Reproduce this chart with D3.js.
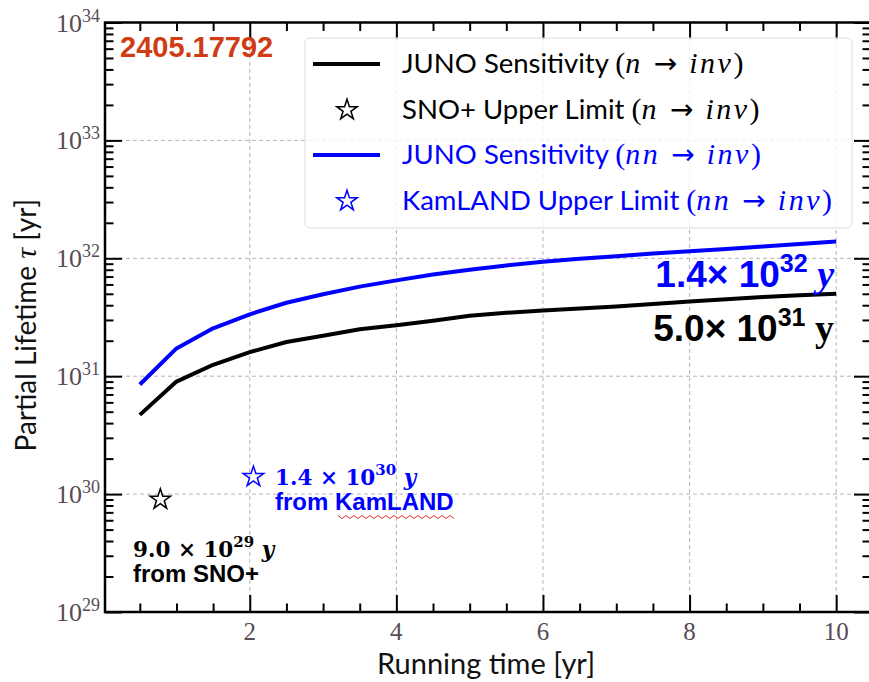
<!DOCTYPE html>
<html>
<head>
<meta charset="utf-8">
<script src="https://cdn.jsdelivr.net/npm/d3@7"></script>
<style>
  body { margin: 0; background: #fff; }
</style>
</head>
<body>
<div id="chart"></div>
<script>
const width = 869;
const height = 682;

// running time [yr]
const years = [0.5, 1, 1.5, 2, 2.5, 3, 3.5, 4, 4.5, 5, 5.5, 6, 6.5, 7, 7.5, 8, 8.5, 9, 9.5, 10];
// JUNO sensitivity n -> inv
const junoN = [4.7e30, 9.0e30, 1.25e31, 1.6e31, 1.95e31, 2.2e31, 2.5e31, 2.7e31, 2.95e31, 3.25e31,
               3.45e31, 3.6e31, 3.75e31, 3.9e31, 4.1e31, 4.3e31, 4.5e31, 4.7e31, 4.85e31, 5.0e31];
// JUNO sensitivity nn -> inv
const junoNN = [8.5e30, 1.72e31, 2.55e31, 3.35e31, 4.2e31, 4.95e31, 5.75e31, 6.5e31, 7.3e31, 8.0e31,
                8.7e31, 9.35e31, 9.9e31, 1.04e32, 1.1e32, 1.15e32, 1.2e32, 1.26e32, 1.32e32, 1.39e32];
// upper limits [year, lifetime]
const snoLimit = [0.78, 9.0e29];
const kamlandLimit = [2.05, 1.4e30];

const xMajor = [2, 4, 6, 8, 10];
const xMinor = [0.5, 1, 1.5, 2.5, 3, 3.5, 4.5, 5, 5.5, 6.5, 7, 7.5, 8.5, 9, 9.5, 10.5];
const yExponents = [29, 30, 31, 32, 33, 34];

const serif = "'Liberation Serif', 'DejaVu Serif', serif";
const sans = "Lato, 'Liberation Sans', sans-serif";
const boldSans = "'Liberation Sans', Arial, sans-serif";
const tickColor = "#574b57";

const svg = d3.select("#chart").append("svg")
    .attr("width", width)
    .attr("height", height);

const x = d3.scaleLinear().domain([0.025, 10.475]).range([105, 871]);
const y = d3.scaleLog().domain([1e29, 1e34]).range([612, 22.5]);

const yMajor = yExponents.map(e => Math.pow(10, e));
const yMinor = [];
yExponents.slice(0, -1).forEach(e => {
    for (let m = 2; m <= 9; m++) yMinor.push(m * Math.pow(10, e));
});

// grid
const grid = svg.append("g");
grid.selectAll(".gx")
    .data(xMajor)
    .join("line")
    .attr("x1", d => x(d)).attr("x2", d => x(d))
    .attr("y1", y.range()[0]).attr("y2", y.range()[1])
    .attr("stroke", "#b4b4b4").attr("stroke-width", 1).attr("stroke-dasharray", "4,3");
grid.selectAll(".gy")
    .data(yMajor.slice(1, -1))
    .join("line")
    .attr("x1", x.range()[0]).attr("x2", x.range()[1])
    .attr("y1", d => y(d)).attr("y2", d => y(d))
    .attr("stroke", "#b4b4b4").attr("stroke-width", 1).attr("stroke-dasharray", "4,3");

// inward ticks on all four sides
const [x0, x1] = x.range();
const [y0, y1] = y.range();
function addAxis(axis, tx, ty) {
    const g = svg.append("g").attr("transform", `translate(${tx},${ty})`).call(axis);
    g.select(".domain").remove();
    g.selectAll(".tick line").attr("stroke", "#000").attr("stroke-width", 2);
    g.selectAll(".tick text").remove();
}
addAxis(d3.axisBottom(x).tickValues(xMajor).tickSize(-17).tickFormat(""), 0, y0);
addAxis(d3.axisBottom(x).tickValues(xMinor).tickSize(-8.5).tickFormat(""), 0, y0);
addAxis(d3.axisTop(x).tickValues(xMajor).tickSize(-17).tickFormat(""), 0, y1);
addAxis(d3.axisTop(x).tickValues(xMinor).tickSize(-8.5).tickFormat(""), 0, y1);
addAxis(d3.axisLeft(y).tickValues(yMajor).tickSize(-17).tickFormat(""), x0, 0);
addAxis(d3.axisLeft(y).tickValues(yMinor).tickSize(-8.5).tickFormat(""), x0, 0);
addAxis(d3.axisRight(y).tickValues(yMajor).tickSize(-17).tickFormat(""), x1, 0);
addAxis(d3.axisRight(y).tickValues(yMinor).tickSize(-8.5).tickFormat(""), x1, 0);

// frame
svg.append("rect")
    .attr("x", x0).attr("y", y1)
    .attr("width", x1 - x0).attr("height", y0 - y1)
    .attr("fill", "none").attr("stroke", "#000").attr("stroke-width", 2.5);

// tick labels
svg.append("g").selectAll("text")
    .data(xMajor)
    .join("text")
    .attr("x", d => x(d)).attr("y", 640)
    .attr("text-anchor", "middle")
    .attr("font-family", serif).attr("font-size", 25)
    .attr("fill", tickColor)
    .text(d => d);

const yl = svg.append("g").selectAll("text")
    .data(yExponents)
    .join("text")
    .attr("x", 100).attr("y", d => y(Math.pow(10, d)) + 9)
    .attr("text-anchor", "end")
    .attr("font-family", serif)
    .attr("fill", tickColor);
yl.append("tspan").attr("font-size", 26).text("10");
yl.append("tspan").attr("font-size", 18).attr("dy", -10).text(d => d);

// axis titles
svg.append("text")
    .attr("x", (x0 + x1) / 2 - 2).attr("y", 674)
    .attr("text-anchor", "middle")
    .attr("font-family", sans).attr("font-size", 29)
    .attr("fill", "#111")
    .text("Running time [yr]");

const yt = svg.append("text")
    .attr("transform", `translate(36,${(y0 + y1) / 2 + 8}) rotate(-90)`)
    .attr("text-anchor", "middle")
    .attr("font-family", sans).attr("font-size", 28)
    .attr("fill", "#111");
yt.append("tspan").text("Partial Lifetime ");
yt.append("tspan").attr("font-family", serif).attr("font-style", "italic").attr("font-size", 30).text("τ");
yt.append("tspan").text(" [yr]");

// curves
const line = d3.line()
    .x((d, i) => x(years[i]))
    .y(d => y(d));

svg.append("path")
    .attr("d", line(junoN))
    .attr("fill", "none").attr("stroke", "#000")
    .attr("stroke-width", 4).attr("stroke-linejoin", "round");

svg.append("path")
    .attr("d", line(junoNN))
    .attr("fill", "none").attr("stroke", "#0000ff")
    .attr("stroke-width", 4).attr("stroke-linejoin", "round");

// stars
const star = d3.symbol().type(d3.symbolStar).size(130);
svg.append("path")
    .attr("d", star())
    .attr("transform", `translate(${x(snoLimit[0])},${y(snoLimit[1])})`)
    .attr("fill", "none").attr("stroke", "#000").attr("stroke-width", 1.5);
svg.append("path")
    .attr("d", star())
    .attr("transform", `translate(${x(kamlandLimit[0])},${y(kamlandLimit[1])})`)
    .attr("fill", "none").attr("stroke", "#0000ff").attr("stroke-width", 1.5);

// legend
const legend = svg.append("g");
legend.append("rect")
    .attr("x", 305).attr("y", 38).attr("width", 547).attr("height", 190).attr("rx", 5)
    .attr("fill", "#fff").attr("fill-opacity", 0.8)
    .attr("stroke", "#dcdcdc").attr("stroke-width", 1);

const legendItems = [
    {label: "JUNO Sensitivity ", math: ["n", "inv"], color: "#000", type: "line"},
    {label: "SNO+ Upper Limit ", math: ["n", "inv"], color: "#000", type: "star"},
    {label: "JUNO Sensitivity ", math: ["nn", "inv"], color: "#0000ff", type: "line"},
    {label: "KamLAND Upper Limit ", math: ["nn", "inv"], color: "#0000ff", type: "star"}
];
const rowY = [64, 110, 155, 201];

legendItems.forEach((it, i) => {
    const cy = rowY[i];
    if (it.type === "line") {
        legend.append("line")
            .attr("x1", 313).attr("x2", 380).attr("y1", cy).attr("y2", cy)
            .attr("stroke", it.color).attr("stroke-width", 4);
    } else {
        legend.append("path")
            .attr("d", star())
            .attr("transform", `translate(347,${cy})`)
            .attr("fill", "none").attr("stroke", it.color).attr("stroke-width", 1.5);
    }
    const t = legend.append("text")
        .attr("x", 402).attr("y", cy + 9)
        .attr("font-family", sans).attr("font-size", 27.5)
        .attr("fill", it.color);
    t.append("tspan").text(it.label);
    t.append("tspan").attr("font-family", serif).attr("font-size", 30).text("(");
    t.append("tspan").attr("font-family", serif).attr("font-size", 30)
        .attr("font-style", "italic").attr("letter-spacing", 2.5).text(it.math[0]);
    t.append("tspan").attr("dx", 11).attr("font-family", "'DejaVu Sans', sans-serif")
        .attr("font-size", 28).text("→");
    t.append("tspan").attr("dx", 12).attr("font-family", serif).attr("font-size", 30)
        .attr("font-style", "italic").attr("letter-spacing", 2.5).text(it.math[1]);
    t.append("tspan").attr("font-family", serif).attr("font-size", 30).text(")");
});

// arXiv id
svg.append("text")
    .attr("x", 120).attr("y", 57)
    .attr("font-family", boldSans)
    .attr("font-weight", "bold").attr("font-size", 29)
    .attr("fill", "#cf3c14")
    .text("2405.17792");

// end-value annotations
function valueLabel(xEnd, yBase, mant, exp, color, yStyle) {
    const t = svg.append("text")
        .attr("x", xEnd).attr("y", yBase)
        .attr("text-anchor", "end")
        .attr("font-family", boldSans)
        .attr("font-weight", "bold").attr("font-size", 37)
        .attr("fill", color);
    t.append("tspan").text(mant + "× 10");
    t.append("tspan").attr("font-size", 25).attr("dy", -15).text(exp);
    t.append("tspan").attr("dy", 15).attr("font-family", serif)
        .attr("font-style", yStyle).attr("font-size", 38).text(" y");
}
valueLabel(834, 287, "1.4", "32", "#0000ff", "italic");
valueLabel(834, 341, "5.0", "31", "#000", "normal");

// limit annotations
function limitLabel(xStart, yBase, mant, exp, color, source) {
    const t = svg.append("text")
        .attr("x", xStart).attr("y", yBase)
        .attr("font-family", "'DejaVu Serif', serif")
        .attr("font-weight", "bold").attr("font-size", 21.5)
        .attr("fill", color);
    t.append("tspan").text(mant + " × 10");
    t.append("tspan").attr("font-size", 15).attr("dy", -10).text(exp);
    t.append("tspan").attr("dy", 10).attr("font-style", "italic").text(" y");
    svg.append("text")
        .attr("x", xStart).attr("y", yBase + 25)
        .attr("font-family", boldSans)
        .attr("font-weight", "bold").attr("font-size", 24)
        .attr("fill", color)
        .text(source);
}
limitLabel(275, 485, "1.4", "30", "#0000ff", "from  KamLAND");
limitLabel(133, 557, "9.0", "29", "#000", "from  SNO+");

// spell-check squiggle under KamLAND
const squiggle = d3.range(0, 30).map(i => [338 + i * 4, 517 + (i % 2 ? 1.5 : -1.5)]);
svg.append("path")
    .attr("d", d3.line()(squiggle))
    .attr("fill", "none").attr("stroke", "#e03030").attr("stroke-width", 1);
</script>
</body>
</html>
